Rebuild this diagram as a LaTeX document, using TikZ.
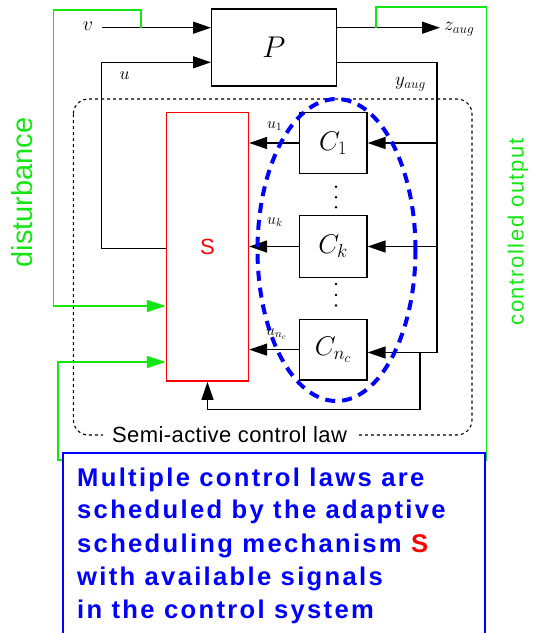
\RequirePackage{fix-cm}
\documentclass[tikz,border=0pt]{standalone}
\usepackage{fontspec}
\usetikzlibrary{arrows.meta}
\newfontfamily\arialf{Liberation Sans}
\newfontfamily\arialsp[LetterSpace=7.4]{Liberation Sans}
\newfontfamily\arialbl[LetterSpace=9]{Liberation Sans}
\newfontfamily\arialsemi[LetterSpace=2]{Liberation Sans}
\definecolor{lgreen}{RGB}{20,230,20}
\newcommand\bluetxt{\arialbl\bfseries\fontsize{25.6}{30}\selectfont}
\begin{document}
\begin{tikzpicture}[x=1pt,y=-1pt,
  blk/.style={draw=black,line width=1.4pt,inner sep=0pt},
  wire/.style={line width=1.4pt,draw=black},
  arr/.style={wire,-{Triangle[length=18pt,width=12pt]}},
  gwire/.style={line width=1.7pt,draw=lgreen},
  garr/.style={gwire,-{Triangle[length=19pt,width=12pt]}},
  lab/.style={inner sep=0pt}]
\useasboundingbox (0,0) rectangle (535,633);
\clip (0,0) rectangle (535,633);

% dashed frame
\draw[line width=1.1pt,dash pattern=on 3pt off 3pt,rounded corners=15pt] (73.4,99) rectangle (472,435);

% blocks
\node[blk,minimum width=124.6pt,minimum height=77pt] (P) at (274,47.5) {\fontsize{30}{36}\selectfont$P$};
\node[blk,draw=red,minimum width=81.9pt,minimum height=268.5pt,text=red] (S) at (207.5,246.9) {\arialf\fontsize{22}{26}\selectfont S};
\node[blk,minimum width=67.6pt,minimum height=60.6pt] (C1) at (333.1,143) {\fontsize{27}{32}\selectfont$C_1$};
\node[blk,minimum width=67.6pt,minimum height=61.6pt] (Ck) at (333.1,246.5) {\fontsize{27}{32}\selectfont$C_k$};
\node[blk,minimum width=67.6pt,minimum height=60.7pt] (Cn) at (333.1,349.6) {\fontsize{27}{32}\selectfont$C_{n_c}$};

% dots
\foreach \yy in {186.7,197.3,207.3,284,295,305.5}
  \fill (336,\yy) circle (1.4pt);

% labels
\node[lab] (vlab) at (88,26) {\fontsize{20}{24}\selectfont$v$};
\node[lab] (ulab) at (124.6,76) {\fontsize{18}{22}\selectfont$u$};
\node[lab,anchor=west] (ylab) at (395,84) {\fontsize{19}{22}\selectfont$y_{aug}$};
\node[lab,anchor=west] (zlab) at (444,29) {\fontsize{19}{22}\selectfont$z_{aug}$};
\node[lab,anchor=west] (u1lab) at (267,126) {\fontsize{16}{20}\selectfont$u_1$};
\node[lab,anchor=west] (uklab) at (267,222) {\fontsize{16}{20}\selectfont$u_k$};
\node[lab,anchor=west] (unlab) at (266,334) {\fontsize{16}{20}\selectfont$u_{n_c}$};

% black connectors
\coordinate (vin) at (102.4,27.7);
\draw[arr] (vin) -- (vin -| P.west);
\coordinate (zend) at (440,27.7);
\draw[arr] (zend -| P.east) -- (zend);
\coordinate (ucorner) at (101.4,62.3);
\coordinate (ubot) at (101.4,248.3);
\draw[arr] (ubot -| S.west) -- (ubot) -- (ucorner) -- (ucorner -| P.west);
\coordinate (ycorner) at (437,62.3);
\coordinate (ybot) at (437,352.5);
\draw[wire] (ycorner -| P.east) -- (ycorner) -- (ybot);
\draw[arr] (ybot) -- (ybot -| Cn.east);
\draw[arr] (ycorner |- C1) -- (C1.east);
\draw[arr] (ycorner |- Ck) -- (Ck.east);
\draw[arr] (C1.west) -- (C1.west -| S.east);
\draw[arr] (Ck.west) -- (Ck.west -| S.east);
\draw[arr] (Cn.west) -- (Cn.west -| S.east);
\coordinate (fbj) at (420,352.5);
\coordinate (fbb) at (420,409.3);
\draw[arr] (fbj) -- (fbb) -- (fbb -| S.south) -- (S.south);

% green connectors
\coordinate (g1a) at (141,27.7);
\coordinate (g1b) at (141,10);
\coordinate (g1c) at (53.6,10);
\coordinate (g1d) at (53.6,306);
\draw[garr] (g1a) -- (g1b) -- (g1c) -- (g1d) -- (g1d -| S.west);
\coordinate (g2a) at (376,27.7);
\coordinate (g2b) at (376,7.3);
\coordinate (g2c) at (486.4,7.3);
\coordinate (g2d) at (486.4,460);
\coordinate (g2e) at (58,460);
\coordinate (g2f) at (58,362);
\draw[garr] (g2a) -- (g2b) -- (g2c) -- (g2d) -- (g2e) -- (g2f) -- (g2f -| S.west);

% blue dashed ellipse
\draw[blue,line width=4pt,dash pattern=on 10pt off 7pt] (336.5,250) ellipse [x radius=79pt,y radius=151pt];

% frame label
\node[fill=white,inner xsep=9pt,inner ysep=1pt] (semi) at (229.5,435) {\arialsemi\fontsize{22}{26}\selectfont Semi-active control law};

% side labels
\node[lab,rotate=90,text=lgreen] (dist) at (22.5,192.5) {\arialf\fontsize{29}{34}\selectfont disturbance};
\node[lab,rotate=90,text=lgreen] (cout) at (518,232) {\arialsp\fontsize{22}{26}\selectfont controlled output};

% blue text box
\draw[blue,line width=2pt,fill=white] (63.1,453.3) rectangle (484.6,640);
\node[lab,anchor=base west,text=blue] (t1) at (77,486.7) {\bluetxt Multiple control laws are};
\node[lab,anchor=base west,text=blue] (t2) at (77,518.7) {\bluetxt scheduled by the adaptive};
\node[lab,anchor=base west,text=blue] (t3) at (77,552) {\bluetxt scheduling mechanism \textcolor{red}{S}};
\node[lab,anchor=base west,text=blue] (t4) at (77,585.3) {\bluetxt with available signals};
\node[lab,anchor=base west,text=blue] (t5) at (77,618.3) {\bluetxt in the control system};
\end{tikzpicture}
\end{document}
